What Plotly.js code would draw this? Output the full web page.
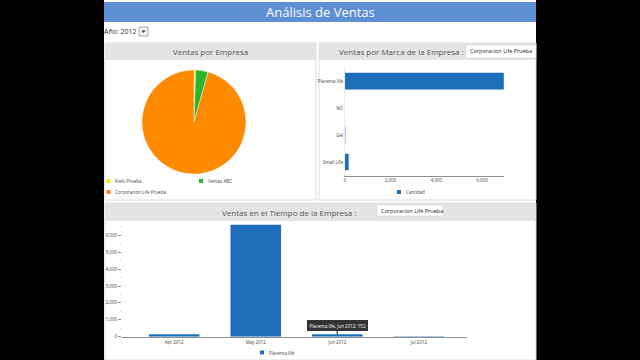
<!DOCTYPE html>
<html>
<head>
<meta charset="utf-8">
<script src="https://cdn.plot.ly/plotly-3.0.1.min.js"></script>
<style>
  html, body { margin: 0; padding: 0; background: #000; overflow: hidden; }
  #chart { width: 640px; height: 360px; }
</style>
</head>
<body>
<div id="chart"></div>
<script>
// ---- data ----
const companies = ['Kielti Prueba', 'Ventas ABC', 'Corporacion Life Prueba'];
const companySales = [40, 285, 7120];
const companyColors = ['#f2e41c', '#2bb52b', '#ff8a00'];

const brands = ['Placenta life', 'NO', 'Gel', 'Small Life'];
const brandQty = [6952, 0, 15, 160];

const months = ['Apr 2012', 'May 2012', 'Jun 2012', 'Jul 2012'];
const monthSales = [140, 6630, 152, 30];

const selectedCompany = 'Corporacion Life Prueba';
const selectedYear = '2012';
const qtyName = 'Cantidad';

// ---- helpers (pixel -> paper) ----
const W = 640, H = 360;
const px = v => v / W;
const py = v => 1 - v / H;
const FONT = 'Open Sans, Noto Sans, sans-serif';
const BLUE = '#1e6eb9';

function rect(x0, y0, x1, y1, fill, line, lw, layer) {
  return { type: 'rect', xref: 'paper', yref: 'paper', layer: layer || 'below',
    x0: px(x0), x1: px(x1), y0: py(y1), y1: py(y0),
    fillcolor: fill, line: { color: line || fill, width: lw === undefined ? 0 : lw } };
}
function label(x, y, text, size, color, anchor, extra) {
  return Object.assign({ xref: 'paper', yref: 'paper', x: px(x), y: py(y), text: text,
    showarrow: false, xanchor: anchor || 'center', yanchor: 'middle',
    font: { family: FONT, size: size, color: color } }, extra || {});
}

const shapes = [
  rect(104, 0, 536, 360, '#ffffff'),
  rect(104, 2, 536, 22, '#5d8fd5'),
  // panels
  rect(105, 43, 316, 200, '#ffffff', '#dcdcdc', 1),
  rect(319, 43, 536, 200, '#ffffff', '#dcdcdc', 1),
  rect(105, 203, 536, 360, '#ffffff', '#dcdcdc', 1),
  // headers
  rect(105, 43, 316, 60, '#e4e4e4'),
  rect(319, 43, 536, 60, '#e4e4e4'),
  rect(105, 203, 536, 221, '#e4e4e4'),
  // dropdown boxes
  rect(466, 45, 536, 58, '#ffffff', '#cfcfcf', 0.5),
  rect(377, 205, 443, 216, '#ffffff', '#cfcfcf', 0.5),
  rect(139, 27, 148, 36, '#f4f4f4', '#8a8a8a', 0.7),
  { type: 'path', xref: 'paper', yref: 'paper', layer: 'above',
    path: `M ${px(141.5)} ${py(30.5)} L ${px(145.5)} ${py(30.5)} L ${px(143.5)} ${py(33)} Z`,
    fillcolor: '#333', line: { width: 0 } }
];

const annotations = [
  label(320, 11.5, 'Análisis de Ventas', 13, '#ffffff'),
  label(102, 31.5, 'Año: ' + selectedYear, 7, '#333', 'left'),
  label(210, 52, 'Ventas por Empresa', 8, '#555'),
  label(401, 52, 'Ventas por Marca de la Empresa :', 8, '#555'),
  label(468, 51.5, selectedCompany, 5.5, '#222', 'left'),
  label(289, 212.5, 'Ventas en el Tiempo de la Empresa :', 8, '#555'),
  label(379, 210.5, selectedCompany, 5.5, '#222', 'left'),
  { xref: 'x2', yref: 'y2', x: months[2], y: monthSales[2],
    text: brands[0] + ', ' + months[2] + ': ' + monthSales[2],
    showarrow: true, arrowhead: 0, arrowwidth: 1.2, arrowcolor: '#333', ax: 0, ay: -9,
    bgcolor: '#333', bordercolor: '#333', borderpad: 1.5,
    font: { family: FONT, size: 4.5, color: '#fff' } }
];

// manual legends (small square + text)
function legendItem(lx, ly, color, text) {
  shapes.push({ type: 'rect', xref: 'paper', yref: 'paper', layer: 'above',
    x0: px(lx - 2), x1: px(lx + 2), y0: py(ly + 2), y1: py(ly - 2),
    fillcolor: color, line: { width: 0 } });
  annotations.push(label(lx + 4.5, ly, text, 4.5, '#444', 'left'));
}
const pieLegendPos = [[108.5, 181], [201, 181], [108.5, 192]];
companies.forEach((c, i) => legendItem(pieLegendPos[i][0], pieLegendPos[i][1], companyColors[i], c));
legendItem(399, 192, BLUE, qtyName);
legendItem(262, 352.5, BLUE, brands[0]);

const traces = [
  { type: 'pie', labels: companies, values: companySales, sort: false,
    direction: 'clockwise', rotation: 0, textinfo: 'none', hoverinfo: 'label+value',
    marker: { colors: companyColors, line: { color: '#ffffff', width: 0.4 } },
    domain: { x: [px(142), px(246)], y: [py(174), py(70)] }, showlegend: false },
  { type: 'bar', orientation: 'h', name: qtyName, x: brandQty, y: brands,
    xaxis: 'x', yaxis: 'y', marker: { color: BLUE }, showlegend: false },
  { type: 'bar', name: brands[0], x: months, y: monthSales,
    xaxis: 'x2', yaxis: 'y2', marker: { color: BLUE }, showlegend: false }
];

const tickFont = { family: FONT, size: 4.5, color: '#444' };
const layout = {
  width: W, height: H, margin: { l: 0, r: 0, t: 0, b: 0, autoexpand: false },
  paper_bgcolor: '#000000', plot_bgcolor: 'rgba(0,0,0,0)',
  bargap: 0.38, showlegend: false,
  xaxis: { domain: [px(345), px(504)], range: [0, 6960], dtick: 2000, tickformat: ',d',
    showgrid: false, zeroline: false, showline: true, linecolor: '#8f8f8f', linewidth: 1.5,
    ticks: '', tickfont: tickFont, anchor: 'y', automargin: false },
  yaxis: { domain: [py(175.5), py(67.6)], type: 'category', categoryarray: brands,
    range: [3.5, -0.5], showgrid: false, zeroline: false, showline: true,
    linecolor: '#ececec', linewidth: 1, ticks: '', tickfont: tickFont, anchor: 'x', automargin: false },
  xaxis2: { domain: [px(122), px(467)], type: 'category', range: [-0.64, 3.59],
    showgrid: false, zeroline: false, showline: true, linecolor: '#8f8f8f', linewidth: 1.5,
    ticks: '', tickfont: tickFont, anchor: 'y2', automargin: false },
  yaxis2: { domain: [py(336.7), py(223.5)], range: [0, 6700], dtick: 1000, tickformat: ',d',
    showgrid: false, zeroline: false, showline: false, ticks: 'outside', ticklen: 3,
    tickcolor: '#777', tickwidth: 0.8, tickfont: tickFont, anchor: 'x2', automargin: false,
    minor: { dtick: 500, ticks: 'outside', ticklen: 1.5, tickcolor: '#bbb' } },
  shapes: shapes,
  annotations: annotations,
  hovermode: false
};

Plotly.newPlot('chart', traces, layout, { displayModeBar: false, staticPlot: true });
</script>
</body>
</html>
